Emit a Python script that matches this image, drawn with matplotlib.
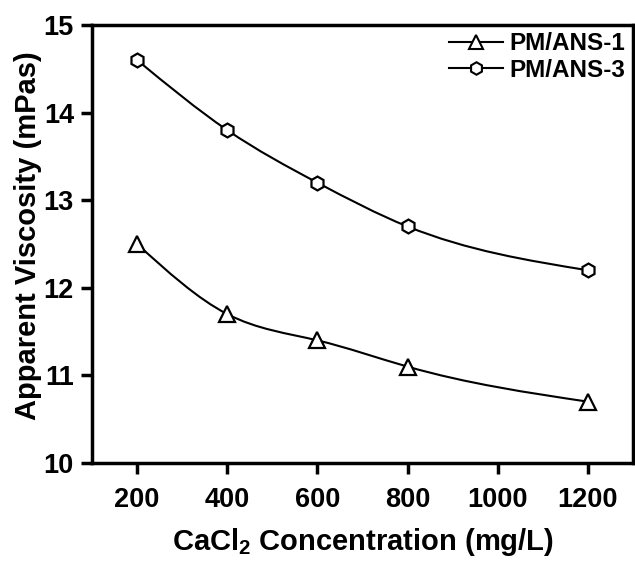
import numpy as np
import matplotlib
matplotlib.use('Agg')
import matplotlib.pyplot as plt
from matplotlib.path import Path
from matplotlib.patches import PathPatch

# 数据
conc = [200, 400, 600, 800, 1200]
ans1 = [12.5, 11.7, 11.4, 11.1, 10.7]
ans3 = [14.6, 13.8, 13.2, 12.7, 12.2]
x_ticks = [200, 400, 600, 800, 1000, 1200]
y_ticks = [10, 11, 12, 13, 14, 15]

plt.rcParams['font.family'] = ['Liberation Sans', 'DejaVu Sans']
plt.rcParams['font.weight'] = 'bold'
plt.rcParams['mathtext.fontset'] = 'custom'
plt.rcParams['mathtext.bf'] = 'Liberation Sans:bold'


def spline_path(xs, ys):
    """自然三次样条 -> 贝塞尔路径（平滑连线）"""
    x = np.asarray(xs, float)
    y = np.asarray(ys, float)
    n = len(x)
    h = np.diff(x)
    A = np.zeros((n, n))
    b = np.zeros(n)
    A[0, 0] = A[-1, -1] = 1.0
    for i in range(1, n - 1):
        A[i, i - 1] = h[i - 1]
        A[i, i] = 2 * (h[i - 1] + h[i])
        A[i, i + 1] = h[i]
        b[i] = 6 * ((y[i + 1] - y[i]) / h[i] - (y[i] - y[i - 1]) / h[i - 1])
    M = np.linalg.solve(A, b)
    verts = [(x[0], y[0])]
    codes = [Path.MOVETO]
    for i in range(n - 1):
        s = (y[i + 1] - y[i]) / h[i]
        d0 = s - h[i] * (2 * M[i] + M[i + 1]) / 6
        d1 = s + h[i] * (M[i] + 2 * M[i + 1]) / 6
        verts += [(x[i] + h[i] / 3, y[i] + d0 * h[i] / 3),
                  (x[i + 1] - h[i] / 3, y[i + 1] - d1 * h[i] / 3),
                  (x[i + 1], y[i + 1])]
        codes += [Path.CURVE4] * 3
    return Path(verts, codes)


fig = plt.figure(figsize=(6.35, 5.61), dpi=100)
ax = fig.add_axes([92 / 635, 1 - 463 / 561, 541 / 635, 438 / 561])

for ys, mk, ms, lab in [(ans1, '^', 11, 'PM/ANS-1'), (ans3, 'h', 10, 'PM/ANS-3')]:
    ax.add_patch(PathPatch(spline_path(conc, ys), fill=False, lw=1.5,
                           edgecolor='black', zorder=2))
    ax.plot(conc, ys, linestyle='none', marker=mk, markersize=ms,
            markerfacecolor='white', markeredgecolor='black',
            markeredgewidth=1.6, zorder=3)
    # 图例句柄
    ax.plot([], [], color='black', lw=1.5, marker=mk, markersize=ms - 1,
            markerfacecolor='white', markeredgecolor='black',
            markeredgewidth=1.5, label=lab)

ax.set_xlim(100, 1300)
ax.set_ylim(10, 15)
ax.set_xticks(x_ticks)
ax.set_yticks(y_ticks)
ax.tick_params(direction='out', length=8, width=2.5, labelsize=19.5)
ax.tick_params(axis='x', pad=9)
ax.tick_params(axis='y', pad=5)
for lbl in ax.get_xticklabels() + ax.get_yticklabels():
    lbl.set_fontweight('bold')
for sp in ax.spines.values():
    sp.set_linewidth(2.5)

ax.set_xlabel('CaCl$_\\mathbf{2}$ Concentration (mg/L)', fontsize=21,
              fontweight='bold', labelpad=10)
ax.set_ylabel('Apparent Viscosity (mPas)', fontsize=21, fontweight='bold')
ax.yaxis.set_label_coords(-0.092, 0.52)

leg = ax.legend(loc='upper right', frameon=False,
                handlelength=2.2, handletextpad=0.3, borderaxespad=0.0,
                borderpad=0.3, labelspacing=0.15,
                prop={'weight': 'bold', 'size': 17.5})

fig.savefig('out.png', dpi=100, facecolor='white')
